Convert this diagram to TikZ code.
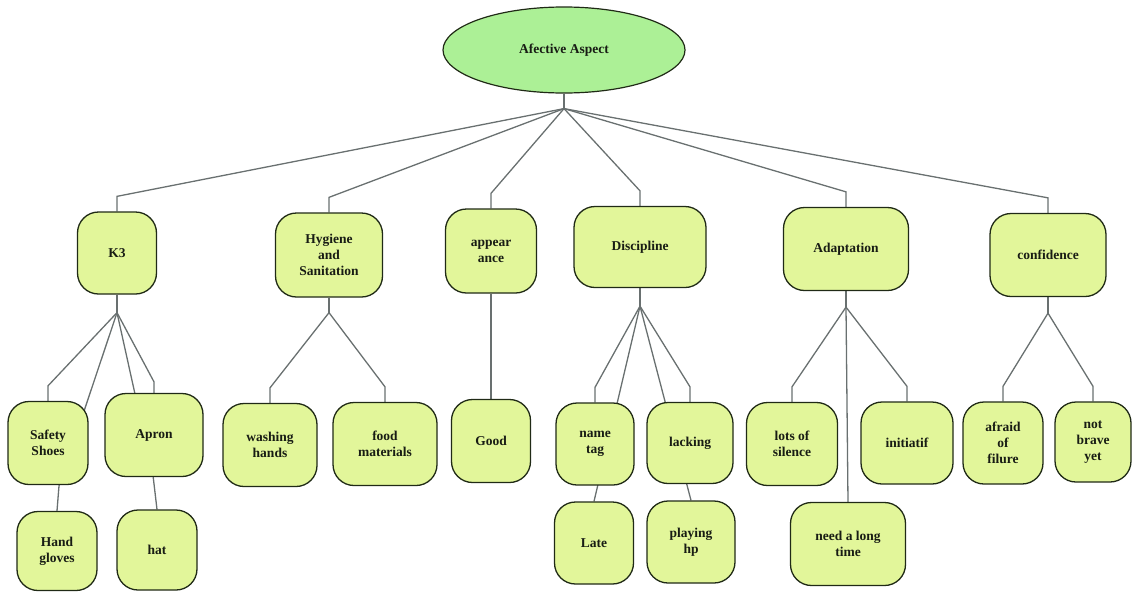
\documentclass[tikz,border=0pt]{standalone}
\usepackage{fontspec}
\setmainfont{Liberation Serif}
\usetikzlibrary{shapes.geometric,calc}
\pgfdeclarelayer{background}
\pgfsetlayers{background,main}
\definecolor{rootfill}{RGB}{172,240,150}
\definecolor{boxfill}{RGB}{226,246,154}
\definecolor{boxline}{RGB}{32,42,22}
\definecolor{connline}{RGB}{105,112,112}
\definecolor{txt}{RGB}{24,28,20}
\tikzset{
  box/.style={draw=boxline, line width=1.3pt, fill=boxfill, rounded corners=21pt,
    inner sep=0pt, align=center, text=txt,
    font=\fontsize{13.5}{16}\selectfont\bfseries},
  rootnode/.style={ellipse, draw=boxline, line width=1.2pt, fill=rootfill,
    inner sep=0pt, text=txt, minimum width=242pt, minimum height=86pt,
    font=\fontsize{13.5}{16}\selectfont\bfseries},
  conn/.style={draw=connline, line width=1.3pt},
}
\newcommand{\bx}[5]{\node[box, minimum width=#4pt, minimum height=#5pt] (#1) at (#2) {#3};}
\begin{document}
\begin{tikzpicture}[x=1pt,y=-1pt]
\useasboundingbox (0,0) rectangle (1132,592);
\node[rootnode] (root) at (564,50) {Afective Aspect};
% level 1
\bx{k3}{117,253}{K3}{79}{82}
\bx{hyg}{329,255}{Hygiene\\and\\Sanitation}{107}{84}
\bx{app}{491,251}{appear\\ance}{91}{84}
\bx{disc}{640,247}{Discipline}{132}{81}
\bx{adapt}{846,249}{Adaptation}{125}{83}
\bx{conf}{1048,255}{confidence}{116}{83}
% level 2
\bx{sshoes}{48,443}{Safety\\Shoes}{80}{83}
\bx{apron}{154,435}{Apron}{98}{83}
\bx{gloves}{57,551}{Hand\\gloves}{80}{79}
\bx{hat}{157,550}{hat}{80}{80}
\bx{wash}{270,445}{washing\\hands}{94}{83}
\bx{food}{385,444}{food\\materials}{104}{83}
\bx{good}{491,441}{Good}{79}{83}
\bx{nametag}{595,444}{name\\tag}{78}{82}
\bx{lacking}{690,443}{lacking}{86}{81}
\bx{late}{594,543}{Late}{79}{82}
\bx{playhp}{691,542}{playing\\hp}{88}{82}
\bx{silence}{792,444}{lots of\\silence}{91}{83}
\bx{initiatif}{907,443}{initiatif}{92}{82}
\bx{needlong}{848,544}{need a long\\time}{115}{83}
\bx{afraid}{1003,443}{afraid\\of\\filure}{80}{82}
\bx{notbrave}{1093,442}{not\\brave\\yet}{76}{80}
% connectors
\coordinate (j0) at ($(root.south)+(0,15)$);
\coordinate (jk3) at ($(k3.south)+(0,18)$);
\coordinate (jhyg) at ($(hyg.south)+(0,15)$);
\coordinate (jdisc) at ($(disc.south)+(0,18)$);
\coordinate (jadapt) at ($(adapt.south)+(0,16)$);
\coordinate (jconf) at ($(conf.south)+(0,16)$);
\begin{pgfonlayer}{background}
\draw[conn] (root.south) -- (j0);
\foreach \n in {k3,hyg,app,disc,adapt,conf}{
  \draw[conn] (j0) -- ($(\n.north)+(0,-15)$) -- (\n.north);
}
\draw[conn] (k3.south) -- (jk3);
\draw[conn] (jk3) -- ($(sshoes.north)+(0,-15)$) -- (sshoes.north);
\draw[conn] (jk3) -- ($(apron.north)+(0,-11)$) -- (apron.north);
\draw[conn] (jk3) -- ($(gloves.north)+(2,-25)$) -- (gloves.north);
\draw[conn] (jk3) -- ($(hat.north)+(-4,-34)$) -- (hat.north);
\draw[conn] (hyg.south) -- (jhyg);
\draw[conn] (jhyg) -- ($(wash.north)+(0,-15)$) -- (wash.north);
\draw[conn] (jhyg) -- ($(food.north)+(0,-15)$) -- (food.north);
\draw[conn] (app.south) -- (good.north);
\draw[conn] (disc.south) -- (jdisc);
\draw[conn] (jdisc) -- ($(nametag.north)+(0,-15)$) -- (nametag.north);
\draw[conn] (jdisc) -- ($(lacking.north)+(0,-15)$) -- (lacking.north);
\draw[conn] (jdisc) -- (late.north);
\draw[conn] (jdisc) -- (playhp.north);
\draw[conn] (adapt.south) -- (jadapt);
\draw[conn] (jadapt) -- ($(silence.north)+(0,-15)$) -- (silence.north);
\draw[conn] (jadapt) -- ($(initiatif.north)+(0,-15)$) -- (initiatif.north);
\draw[conn] (jadapt) -- (needlong.north);
\draw[conn] (conf.south) -- (jconf);
\draw[conn] (jconf) -- ($(afraid.north)+(0,-15)$) -- (afraid.north);
\draw[conn] (jconf) -- ($(notbrave.north)+(0,-15)$) -- (notbrave.north);
\end{pgfonlayer}
\end{tikzpicture}
\end{document}
